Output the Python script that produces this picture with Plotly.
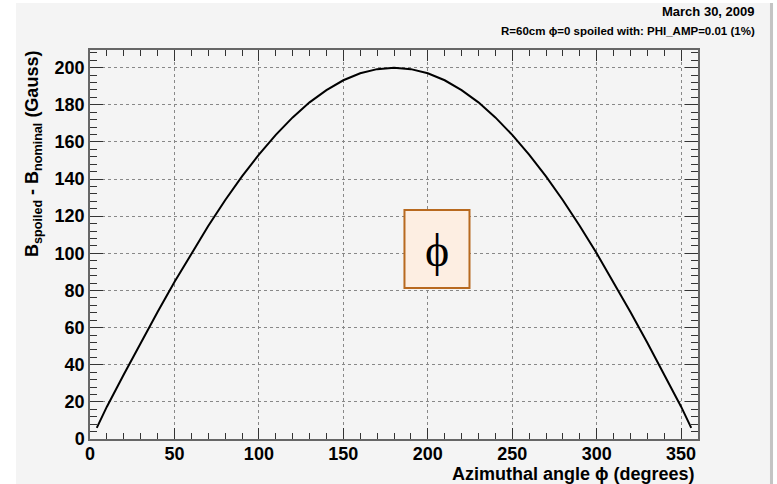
import plotly.graph_objects as go

# Data (azimuthal angle in degrees, field difference in Gauss)
phi_deg = [4, 10, 20, 30, 40, 50, 60, 70, 80, 90, 100, 110, 120, 130, 140, 150, 160, 170,
           180, 190, 200, 210, 220, 230, 240, 250, 260, 270, 280, 290, 300, 310, 320, 330,
           340, 350, 356]
delta_b = [6.0, 17.4, 34.7, 51.8, 68.4, 84.5, 100.0, 114.7, 128.6, 141.4, 153.2, 163.8,
           173.2, 181.3, 187.9, 193.2, 197.0, 199.2, 200.0, 199.2, 197.0, 193.2, 187.9,
           181.3, 173.2, 163.8, 153.2, 141.4, 128.6, 114.7, 100.0, 84.5, 68.4, 51.8, 34.7,
           17.4, 6.0]

x_ticks = [0, 50, 100, 150, 200, 250, 300, 350]
y_ticks = [0, 20, 40, 60, 80, 100, 120, 140, 160, 180, 200]

BG = "#f4f4f4"
FONT = "Liberation Sans"

fig = go.Figure()
fig.add_trace(go.Scatter(x=phi_deg, y=delta_b, mode="lines",
                         line=dict(color="black", width=2), showlegend=False))

axis_common = dict(
    showline=True, linecolor="#666666", linewidth=1.5, mirror="allticks",
    ticks="inside", tickcolor="#333333", tickwidth=1,
    showgrid=True, gridcolor="#888888", griddash="dot", gridwidth=1,
    zeroline=False,
    tickfont=dict(family=FONT, size=18, color="black", weight="bold"),
)

fig.update_xaxes(range=[0, 360], tickvals=x_ticks, ticklen=11, ticklabelstandoff=-2,
                 minor=dict(dtick=10, tick0=0, ticks="inside", ticklen=6, tickcolor="#333333",
                            showgrid=False),
                 **axis_common)
fig.update_yaxes(range=[0, 209.5], tickvals=y_ticks, ticklen=13,
                 minor=dict(dtick=4, tick0=0, ticks="inside", ticklen=7, tickcolor="#333333",
                            showgrid=False),
                 **axis_common)

shapes = [
    # gray canvas panel
    dict(type="rect", xref="paper", yref="paper", x0=-0.1217, x1=1.1184, y0=-0.2, y1=1.1208,
         fillcolor=BG, line=dict(width=0), layer="below"),
    # right shadow edge
    dict(type="rect", xref="paper", yref="paper", x0=1.1184, x1=1.1234, y0=-0.2, y1=1.1208,
         fillcolor="#c4c4c4", line=dict(width=0), layer="below"),
    # phi box
    dict(type="rect", xref="x", yref="y", x0=186.2, x1=224.7, y0=81.3, y1=123.3,
         fillcolor="#fdeee2", line=dict(color="#b8691f", width=2), layer="above"),
]

annotations = [
    dict(text="ϕ", x=205.5, y=101.5, xref="x", yref="y", showarrow=False,
         font=dict(family="Liberation Serif", size=46, color="black"),
         xanchor="center", yanchor="middle"),
    dict(text="Azimuthal angle ϕ (degrees)", x=697, y=474, xref="paper", yref="paper",
         showarrow=False, font=dict(family=FONT, size=18, color="black", weight="bold"),
         xanchor="right", yanchor="middle"),
    dict(text="B<sub>spoiled</sub> - B<sub>nominal</sub> (Gauss)", textangle=-90,
         x=33, y=154, xref="paper", yref="paper", showarrow=False,
         font=dict(family=FONT, size=18, color="black", weight="bold"),
         xanchor="center", yanchor="middle"),
    dict(text="March 30, 2009", x=757, y=12, xref="paper", yref="paper", showarrow=False,
         font=dict(family=FONT, size=13, color="black", weight="bold"),
         xanchor="right", yanchor="middle"),
    dict(text="R=60cm ϕ=0 spoiled with: PHI_AMP=0.01 (1%)", x=757, y=31, xref="paper",
         yref="paper", showarrow=False,
         font=dict(family=FONT, size=11.5, color="black", weight="bold"),
         xanchor="right", yanchor="middle"),
]

# convert pixel positions for paper-referenced annotations
L, R, T, B = 90, 79, 50, 45
W, H = 777, 484
pw, ph = W - L - R, H - T - B
for a in annotations:
    if a["xref"] == "paper":
        a["x"] = (a["x"] - L) / pw
        a["y"] = (H - B - a["y"]) / ph

fig.update_layout(
    width=W, height=H,
    margin=dict(l=L, r=R, t=T, b=B, pad=0),
    paper_bgcolor="white", plot_bgcolor=BG,
    shapes=shapes, annotations=annotations,
    font=dict(family=FONT),
)

fig.write_html("out.html")
